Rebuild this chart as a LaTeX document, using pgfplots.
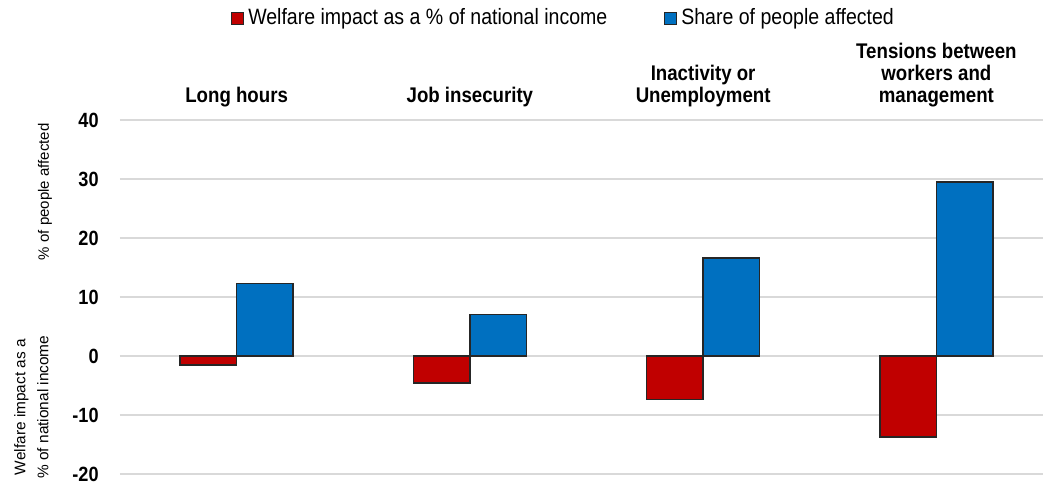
\documentclass[border=0pt]{standalone}
\usepackage{fontspec}
\setmainfont{Liberation Sans}[FakeStretch=0.88]
\newfontfamily\rotfont{Liberation Sans}
\usepackage{pgfplots}
\pgfplotsset{compat=1.18}
\definecolor{wred}{HTML}{C00000}
\definecolor{wblue}{HTML}{0070C0}
\definecolor{gridgrey}{HTML}{D9D9D9}
\begin{document}
\begin{tikzpicture}
\useasboundingbox (-60pt,-5pt) rectangle (461.5pt,237pt);
\begin{axis}[
  at={(0,0)}, anchor=south west,
  scale only axis,
  width=466.5pt, height=177pt,
  xmin=-0.5, xmax=3.5,
  ymin=-20, ymax=40,
  ytick={-20,-10,0,10,20,30,40},
  xtick={0,1,2,3},
  xticklabels={Long hours,Job insecurity,{Inactivity or\\Unemployment},{Tensions between\\workers and\\management}},
  xticklabel pos=right,
  xticklabel style={anchor=south, inner sep=0pt, yshift=6.5pt, align=center, font=\fontsize{10.6}{11}\selectfont\bfseries},
  yticklabel style={anchor=east, inner sep=0pt, xshift=-10.5pt, font=\fontsize{10.3}{12}\selectfont\bfseries},
  /pgf/number format/assume math mode=true,
  axis line style={draw=none},
  tick style={draw=none},
  major tick length=0pt,
  ymajorgrids,
  grid style={gridgrey, line width=0.9pt},
  ybar=0pt,
  bar width=28.25pt,
  legend style={at={(0.4765,1.288)}, anchor=center, draw=none, fill=none,
    legend columns=2, font=\fontsize{11.1}{13}\selectfont,
    /tikz/every even column/.append style={column sep=26.5pt}},
  legend image code/.code={\draw[#1, line width=0.5pt] (0pt,-3pt) rectangle (6pt,3pt);},
  clip=false,
]
\addplot[fill=wred, draw=black!85, line width=0.7pt] coordinates {(0,-1.5) (1,-4.6) (2,-7.4) (3,-13.7)};
\addplot[fill=wblue, draw=black!85, line width=0.7pt] coordinates {(0,12.3) (1,7.0) (2,16.6) (3,29.5)};
\legend{Welfare impact as a \% of national income, Share of people affected}
\node[rotate=90, anchor=center, align=center, font=\rotfont\fontsize{7.5}{11}\selectfont] at (rel axis cs:-0.0804,0.797) {\% of people affected};
\node[rotate=90, anchor=center, align=center, font=\rotfont\fontsize{7.7}{11.5}\selectfont] at (rel axis cs:-0.0949,0.189) {Welfare impact as a\\\% of national income};
\end{axis}
\end{tikzpicture}
\end{document}
